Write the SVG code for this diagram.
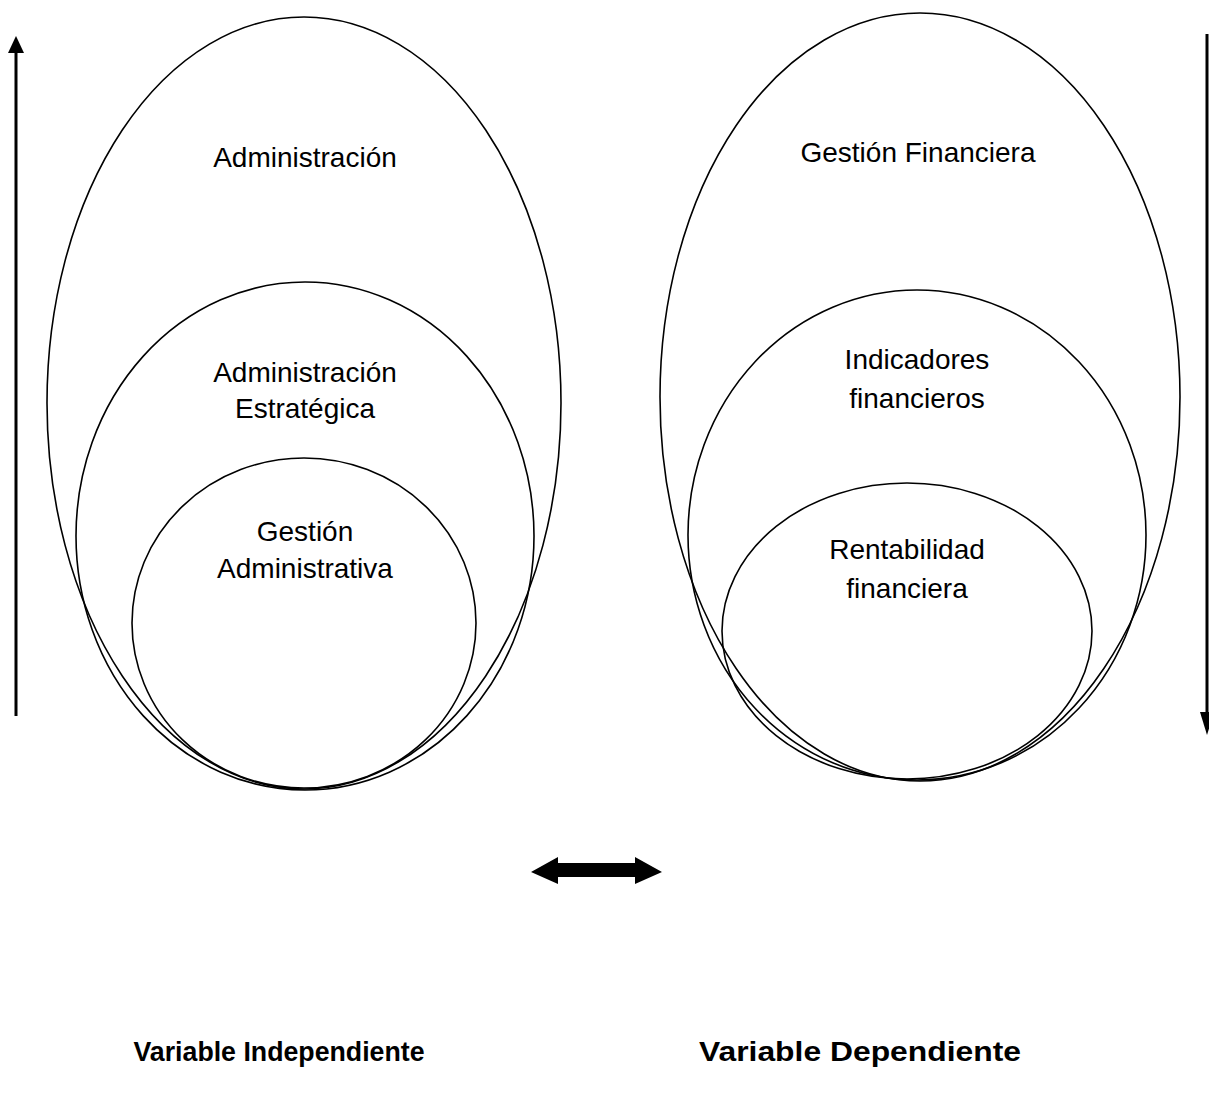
<svg xmlns="http://www.w3.org/2000/svg" width="1209" height="1093" viewBox="0 0 1209 1093">
  <style>
    .ring { fill: none; stroke: #000; stroke-width: 1.6; }
    .lbl { font-family: "Liberation Sans", Arial, sans-serif; font-size: 28px; fill: #000; text-anchor: middle; }
    .var { font-family: "Liberation Sans", Arial, sans-serif; font-size: 28px; font-weight: bold; fill: #000; text-anchor: middle; }
    .axis { stroke: #000; stroke-width: 3; fill: none; }
  </style>
  <rect width="1209" height="1093" fill="#fff"/>

  <!-- independent variable: nested sets -->
  <g id="administracion">
    <ellipse class="ring" cx="304" cy="403" rx="257" ry="386"/>
    <text class="lbl" x="305" y="167">Administración</text>
  </g>
  <g id="administracion-estrategica">
    <ellipse class="ring" cx="305" cy="536" rx="229" ry="254"/>
    <text class="lbl" x="305" y="382">Administración</text>
    <text class="lbl" x="305" y="418">Estratégica</text>
  </g>
  <g id="gestion-administrativa">
    <ellipse class="ring" cx="304" cy="623" rx="172" ry="165"/>
    <text class="lbl" x="305" y="541">Gestión</text>
    <text class="lbl" x="305" y="578">Administrativa</text>
  </g>

  <!-- dependent variable: nested sets -->
  <g id="gestion-financiera">
    <ellipse class="ring" cx="920" cy="397" rx="260" ry="384"/>
    <text class="lbl" x="918" y="162">Gestión Financiera</text>
  </g>
  <g id="indicadores-financieros">
    <ellipse class="ring" cx="917" cy="535" rx="229" ry="245"/>
    <text class="lbl" x="917" y="369">Indicadores</text>
    <text class="lbl" x="917" y="408">financieros</text>
  </g>
  <g id="rentabilidad-financiera">
    <ellipse class="ring" cx="907" cy="631" rx="185" ry="148"/>
    <text class="lbl" x="907" y="559">Rentabilidad</text>
    <text class="lbl" x="907" y="598">financiera</text>
  </g>

  <!-- connectors -->
  <g id="connectors">
    <line class="axis" x1="16" y1="716" x2="16" y2="52"/>
    <polygon points="16,36 8,53 24,53" fill="#000"/>
    <line class="axis" x1="1207" y1="34" x2="1207" y2="714"/>
    <polygon points="1207,735 1200,712 1214,712" fill="#000"/>
    <polygon points="531,872 558,857 558,863 635,863 635,857 662,872 635,884 635,877 558,877 558,884" fill="#000"/>
  </g>

  <text class="var" x="279" y="1061" textLength="291" lengthAdjust="spacingAndGlyphs">Variable Independiente</text>
  <text class="var" x="860" y="1061" textLength="322" lengthAdjust="spacingAndGlyphs">Variable Dependiente</text>
</svg>
